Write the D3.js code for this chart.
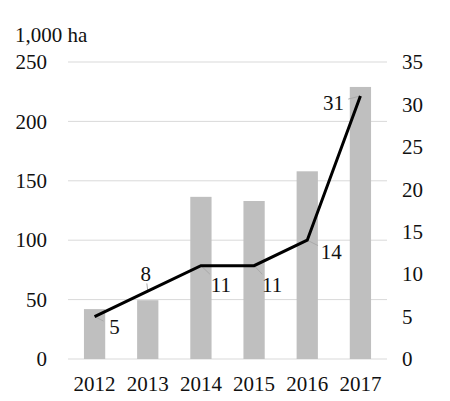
<!DOCTYPE html>
<html lang="en">
<head>
<meta charset="utf-8">
<script src="https://d3js.org/d3.v7.js"></script>
<style>
  body { margin: 0; background: #fff; overflow: hidden; }
</style>
</head>
<body>
<script>
  const years = ["2012", "2013", "2014", "2015", "2016", "2017"];
  const areaValues = [42, 49.5, 136.5, 133, 158, 229];   // bars, 1,000 ha
  const countValues = [5, 8, 11, 11, 14, 31];            // line, right axis
  const leftTicks = [0, 50, 100, 150, 200, 250];
  const rightTicks = [0, 5, 10, 15, 20, 25, 30, 35];
  // label offsets relative to each point (dx, dy)
  const labelOffsets = [[20, 10], [-2, -17], [20, 19], [18, 19], [24, 12], [-27, 7]];

  const serif = '"Liberation Serif", "Times New Roman", serif';

  const w = 450, h = 401;
  const margin = {top: 62, right: 63, bottom: 42, left: 68};
  const innerWidth = w - margin.left - margin.right;
  const innerHeight = h - margin.top - margin.bottom;

  const svg = d3.select("body").append("svg")
    .attr("width", w)
    .attr("height", h)
    .style("display", "block");

  const g = svg.append("g")
    .attr("transform", `translate(${margin.left},${margin.top})`);

  const xScale = d3.scaleBand()
    .domain(years)
    .range([0, innerWidth])
    .paddingInner(0.6)
    .paddingOuter(0.3);

  const yLeft = d3.scaleLinear().domain([0, 250]).range([innerHeight, 0]);
  const yRight = d3.scaleLinear().domain([0, 35]).range([innerHeight, 0]);

  // gridlines
  g.selectAll(".grid").data(leftTicks).enter().append("line")
    .attr("x1", 0).attr("x2", innerWidth)
    .attr("y1", d => yLeft(d)).attr("y2", d => yLeft(d))
    .attr("stroke", "#d9d9d9").attr("stroke-width", 1);

  // bars
  g.selectAll(".bar").data(areaValues).enter().append("rect")
    .attr("x", (d, i) => xScale(years[i]))
    .attr("y", d => yLeft(d))
    .attr("width", xScale.bandwidth())
    .attr("height", d => innerHeight - yLeft(d))
    .attr("fill", "#bfbfbf");

  // axes
  const leftAxis = d3.axisLeft(yLeft).tickValues(leftTicks).tickSize(0).tickPadding(21);
  const rightAxis = d3.axisRight(yRight).tickValues(rightTicks).tickSize(0).tickPadding(15);
  const bottomAxis = d3.axisBottom(xScale).tickSize(0).tickPadding(17);

  const la = g.append("g").call(leftAxis);
  const ra = g.append("g").attr("transform", `translate(${innerWidth},0)`).call(rightAxis);
  const ba = g.append("g").attr("transform", `translate(0,${innerHeight})`).call(bottomAxis);
  [la, ra, ba].forEach(a => {
    a.select(".domain").remove();
    a.attr("font-family", serif).attr("font-size", 21);
    a.selectAll("text").attr("fill", "#111");
  });

  const cx = i => xScale(years[i]) + xScale.bandwidth() / 2;

  // leader lines
  g.selectAll(".leader").data(countValues).enter().append("line")
    .attr("x1", (d, i) => cx(i))
    .attr("y1", d => yRight(d))
    .attr("x2", (d, i) => cx(i) + labelOffsets[i][0] * 0.45)
    .attr("y2", (d, i) => yRight(d) + labelOffsets[i][1] * 0.45)
    .attr("stroke", "#aaa").attr("stroke-width", 1);

  // line
  const line = d3.line()
    .x((d, i) => cx(i))
    .y(d => yRight(d));

  g.append("path")
    .datum(countValues)
    .attr("d", line)
    .attr("fill", "none")
    .attr("stroke", "#000")
    .attr("stroke-width", 3);

  // data labels
  g.selectAll(".lbl").data(countValues).enter().append("text")
    .attr("x", (d, i) => cx(i) + labelOffsets[i][0])
    .attr("y", (d, i) => yRight(d) + labelOffsets[i][1] + 7)
    .attr("text-anchor", "middle")
    .attr("font-family", serif)
    .attr("font-size", 21)
    .attr("fill", "#111")
    .text(d => d);

  // unit label
  svg.append("text")
    .attr("x", 15).attr("y", 42)
    .attr("font-family", serif)
    .attr("font-size", 21)
    .attr("fill", "#111")
    .text("1,000 ha");
</script>
</body>
</html>
